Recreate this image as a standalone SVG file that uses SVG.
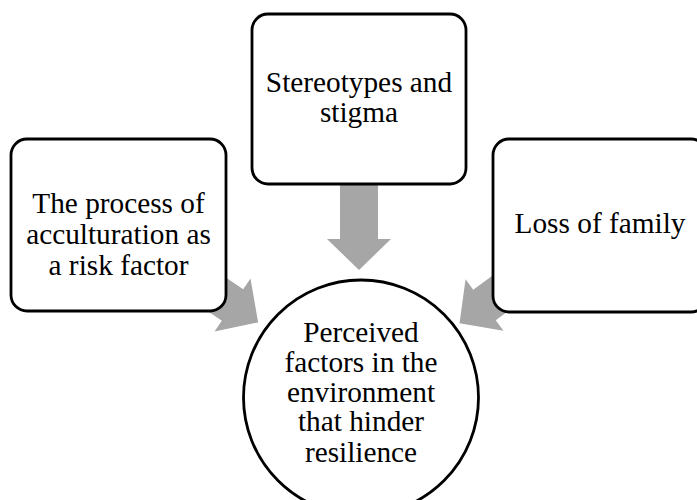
<svg xmlns="http://www.w3.org/2000/svg" width="697" height="500" viewBox="0 0 697 500">
  <style>
    .box { fill: #ffffff; stroke: #000000; stroke-width: 2.8; }
    .arrow { fill: #a6a6a6; stroke: none; }
    .label { font-family: "Liberation Serif", "Times New Roman", serif; font-size: 29.3px; fill: #000000; text-anchor: middle; }
  </style>
  <defs>
    <!-- block arrow pointing along +x, head base at origin -->
    <polygon id="blockArrow" points="-70,-19 0,-19 0,-32 31,0 0,32 0,19 -70,19"/>
  </defs>
  <rect width="697" height="500" fill="#ffffff"/>

  <g id="connectors">
    <use href="#blockArrow" class="arrow" transform="translate(232.5,305) rotate(34.2)"/>
    <use href="#blockArrow" class="arrow" transform="translate(359,239) rotate(90)"/>
    <use href="#blockArrow" class="arrow" transform="translate(484.5,305) rotate(143.7)"/>
  </g>

  <g id="node-acculturation">
    <rect class="box" x="11" y="139" width="215" height="172" rx="16" ry="16"/>
    <text class="label" x="118.5" y="213">The process of</text>
    <text class="label" x="118.5" y="244">acculturation as</text>
    <text class="label" x="118.5" y="275">a risk factor</text>
  </g>

  <g id="node-stereotypes">
    <rect class="box" x="252" y="14" width="214" height="170" rx="16" ry="16"/>
    <text class="label" x="359" y="92">Stereotypes and</text>
    <text class="label" x="359" y="122">stigma</text>
  </g>

  <g id="node-family">
    <rect class="box" x="493" y="139" width="214" height="173" rx="16" ry="16"/>
    <text class="label" x="600" y="233">Loss of family</text>
  </g>

  <g id="node-factors">
    <circle class="box" cx="361" cy="397.5" r="117.5"/>
    <text class="label" x="361" y="342">Perceived</text>
    <text class="label" x="361" y="372">factors in the</text>
    <text class="label" x="361" y="402">environment</text>
    <text class="label" x="361" y="431">that hinder</text>
    <text class="label" x="361" y="462">resilience</text>
  </g>
</svg>
